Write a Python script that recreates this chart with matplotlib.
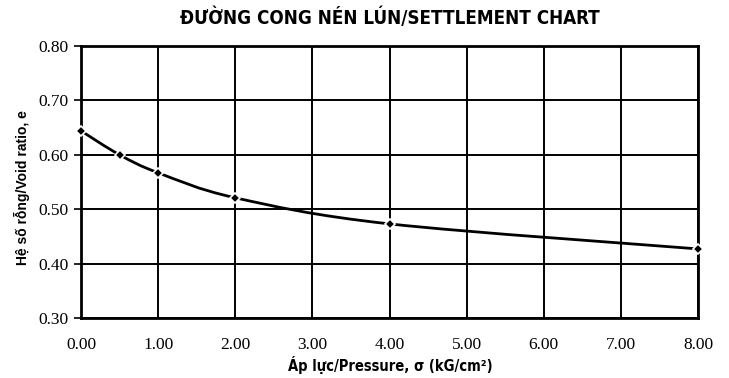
import matplotlib
matplotlib.use("Agg")
import matplotlib.pyplot as plt
import numpy as np
from matplotlib.path import Path
from matplotlib.patches import PathPatch

pressure = [0.0, 0.5, 1.0, 2.0, 4.0, 8.0]
void_ratio = [0.644, 0.600, 0.567, 0.521, 0.473, 0.427]
x_ticks = [0, 1, 2, 3, 4, 5, 6, 7, 8]
y_ticks = [0.30, 0.40, 0.50, 0.60, 0.70, 0.80]


def smooth_path(xs, ys, ax):
    """Excel-like smoothed line as cubic Bezier in display coords"""
    pts = ax.transData.transform(np.column_stack([xs, ys]))
    verts = [pts[0]]
    codes = [Path.MOVETO]
    n = len(pts)
    for i in range(n - 1):
        p0 = pts[i - 1] if i > 0 else pts[i]
        p1, p2 = pts[i], pts[i + 1]
        p3 = pts[i + 2] if i + 2 < n else pts[i + 1]
        c1 = p1 + (p2 - p0) / 6.0
        c2 = p2 - (p3 - p1) / 6.0
        verts += [c1, c2, p2]
        codes += [Path.CURVE4] * 3
    return Path(verts, codes)


fig = plt.figure(figsize=(7.29, 3.78), dpi=100)
ax = fig.add_axes([81 / 729, 1 - 318 / 378, 617 / 729, 272 / 378])
ax.set_xlim(0, 8)
ax.set_ylim(0.30, 0.80)
ax.set_xticks(x_ticks)
ax.set_yticks(y_ticks)
ax.set_xticklabels([f"{v:.2f}" for v in x_ticks], family="Liberation Serif", fontsize=12.5)
ax.set_yticklabels([f"{v:.2f}" for v in y_ticks], family="Liberation Serif", fontsize=12.5)
ax.tick_params(axis="x", length=0, pad=14)
ax.tick_params(axis="y", length=5, width=1.2, pad=4)
ax.grid(True, color="black", linewidth=1.4)
ax.set_axisbelow(True)
for s in ax.spines.values():
    s.set_linewidth(2)

fig.canvas.draw()
path = smooth_path(pressure, void_ratio, ax)
ax.add_patch(PathPatch(path, transform=None, facecolor="none", edgecolor="black",
                       linewidth=2, zorder=3, clip_on=False))
ax.plot(pressure, void_ratio, linestyle="none", marker="D", markersize=5.5,
        color="black", markeredgecolor="white", markeredgewidth=1.2, zorder=4,
        clip_on=False)

fig.text(0.535, 1 - 18 / 378, "ĐƯỜNG CONG NÉN LÚN/SETTLEMENT CHART", ha="center", va="center",
         family="DejaVu Sans", stretch="condensed", fontweight="bold", fontsize=13.5)
fig.text(0.535, 1 - 365 / 378, "Áp lực/Pressure, σ (kG/cm²)", ha="center", va="center",
         family="DejaVu Sans", stretch="condensed", fontweight="bold", fontsize=10.5)
fig.text(22 / 729, 1 - 188 / 378, "Hệ số rỗng/Void ratio, e", ha="center", va="center",
         rotation=90, family="Liberation Sans", fontweight="bold", fontsize=10)

fig.savefig("out.png", dpi=100, facecolor="white")
